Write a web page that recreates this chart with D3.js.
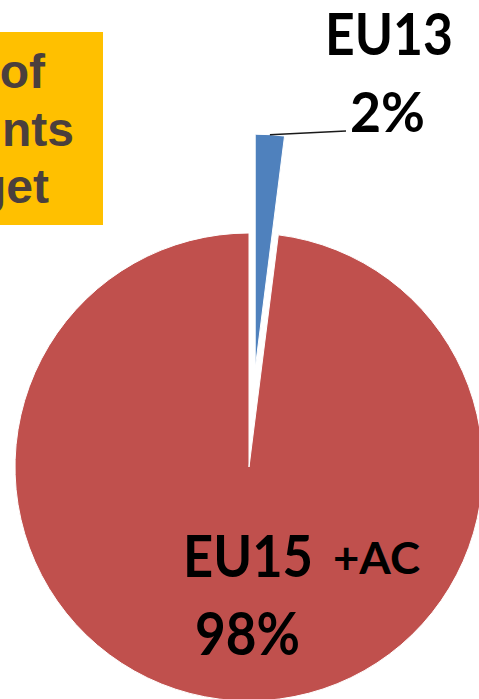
<!DOCTYPE html>
<html>
<head>
<meta charset="utf-8">
<script src="https://cdn.jsdelivr.net/npm/d3@7"></script>
<style>
html,body{margin:0;padding:0;background:#fff;overflow:hidden;}
svg{display:block;}
</style>
</head>
<body>
<svg id="chart" width="479" height="699"></svg>
<script>
const categories = ["EU13", "EU15"];
const values = [2, 98];
const percentLabels = ["2%", "98%"];
const suffixes = ["", "+AC"];
const boxLines = ["of", "nts", "get"];

const colors = ["#4F81BD", "#C0504D"];
const W = 479, H = 699;
const cx = 249, cy = 467, R = 234;
const explode = [99, 0];

const svg = d3.select("#chart");

// Orange box (cropped at left in the original)
svg.append("rect").attr("x", 0).attr("y", 32).attr("width", 103).attr("height", 193).attr("fill", "#FFC000");
const boxEnds = [45, 74, 49];
const boxBase = [88, 146, 203];
svg.selectAll("text.box").data(boxLines).join("text")
  .attr("class", "box")
  .attr("x", (d, i) => boxEnds[i])
  .attr("y", (d, i) => boxBase[i])
  .attr("text-anchor", "end")
  .attr("font-family", "'Liberation Sans', Arial, sans-serif")
  .attr("font-weight", "bold")
  .attr("font-size", 48)
  .attr("fill", "#4A3F3D")
  .text(d => d);

const pie = d3.pie().sort(null).startAngle(0).endAngle(2 * Math.PI)(values);
const arc = d3.arc().innerRadius(0).outerRadius(R);

const g = svg.append("g").attr("transform", `translate(${cx},${cy})`);
g.selectAll("path").data(pie).join("path")
  .attr("d", arc)
  .attr("fill", (d, i) => colors[i])
  .attr("stroke", "#fff")
  .attr("stroke-width", 1)
  .attr("transform", (d, i) => {
    const a = (d.startAngle + d.endAngle) / 2;
    return `translate(${explode[i] * Math.sin(a)},${-explode[i] * Math.cos(a)})`;
  });

// Leader line for EU13
const d0 = pie[0];
const a0 = (d0.startAngle + d0.endAngle) / 2;
const ox = explode[0] * Math.sin(a0), oy = -explode[0] * Math.cos(a0);
const p0 = [ox + R * Math.sin(a0), oy - R * Math.cos(a0)];
g.append("path")
  .attr("d", d3.line()([p0, [97, -336]]))
  .attr("stroke", "#1a1a1a").attr("stroke-width", 1.5).attr("fill", "none");

const lab = svg.append("g")
  .attr("font-family", "Lato, 'Open Sans', sans-serif")
  .attr("font-weight", "bold")
  .attr("fill", "#000");

function addText(x, y, size, len, txt) {
  return lab.append("text").attr("x", x).attr("y", y).attr("font-size", size)
    .attr("textLength", len).attr("lengthAdjust", "spacingAndGlyphs").text(txt);
}
addText(325, 55, 57, 128, categories[0]);
addText(350, 132, 56, 75, percentLabels[0]);
addText(183, 577, 57, 130, categories[1]);
addText(333, 574, 44, 87, suffixes[1]);
addText(195, 655, 59, 105, percentLabels[1]);
</script>
</body>
</html>
